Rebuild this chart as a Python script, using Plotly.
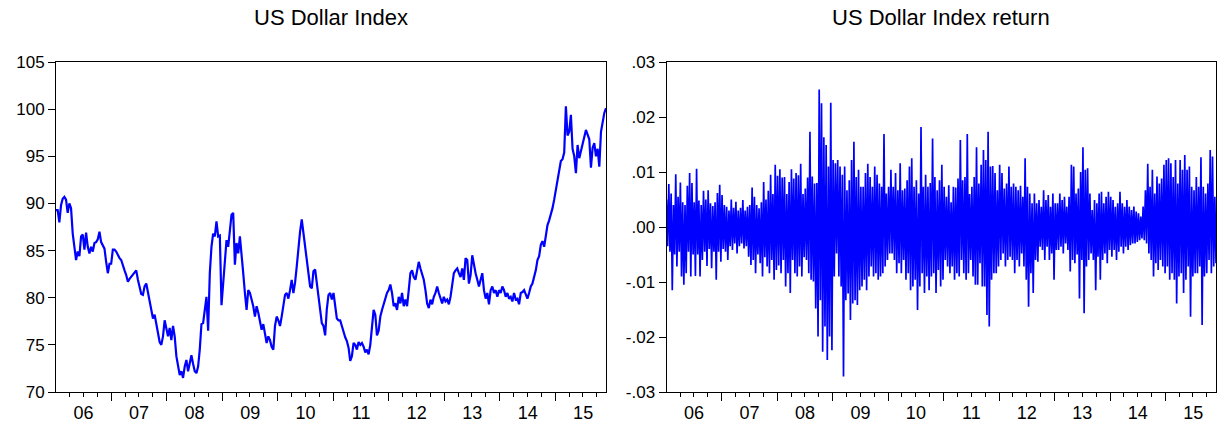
import pandas as pd
import plotly.graph_objects as go

# ---------------- data ----------------
start_date = "2006-01-02"
end_date = "2015-11-30"

left_title = "US Dollar Index"
right_title = "US Dollar Index return"

# US Dollar Index level, sampled at regular intervals (~11 days)
index_level = [
    89.3, 89.3, 88.0, 89.8, 90.5, 90.7, 90.4, 89.0, 90.0, 89.5,
    86.8, 85.4, 84.0, 84.9, 84.4, 86.5, 86.7, 85.1, 86.9, 85.4,
    84.7, 85.4, 84.9, 85.8, 85.9, 86.2, 87.0, 85.9, 85.6, 85.2,
    83.8, 82.6, 83.6, 83.6, 85.1, 85.1, 84.9, 84.5, 84.2, 84.0,
    83.3, 82.9, 82.4, 81.7, 82.0, 82.2, 82.4, 82.6, 82.9, 81.9,
    81.2, 80.4, 80.3, 81.2, 81.5, 80.6, 79.6, 78.7, 77.8, 78.2,
    77.3, 76.2, 75.3, 75.0, 75.9, 77.6, 76.6, 75.9, 76.8, 75.5,
    77.0, 75.9, 73.8, 72.7, 71.8, 72.2, 71.5, 72.7, 73.4, 72.2,
    72.9, 73.9, 73.0, 72.2, 72.0, 72.7, 74.5, 77.2, 77.3, 79.1,
    80.1, 76.5, 82.6, 85.4, 86.8, 86.5, 88.1, 86.5, 86.6, 79.2,
    81.5, 84.7, 86.1, 85.4, 87.5, 88.8, 89.0, 83.5, 85.8, 84.7,
    86.5, 84.0, 82.6, 80.5, 78.7, 80.8, 80.5, 79.8, 79.1, 78.0,
    79.1, 78.4, 77.6, 76.6, 77.2, 76.2, 75.2, 75.9, 75.5, 74.8,
    74.5, 77.0, 78.0, 77.6, 77.0, 78.0, 79.4, 80.3, 80.5, 79.9,
    80.8, 81.9, 80.5, 81.6, 83.3, 85.4, 87.0, 88.3, 86.8, 85.8,
    84.4, 82.9, 81.2, 81.0, 82.8, 83.0, 81.5, 79.8, 78.4, 77.3,
    77.0, 76.0, 78.8, 80.3, 80.5, 79.8, 80.5,
    79.3, 77.8, 77.6, 77.6, 77.0, 76.3, 75.8, 75.4, 74.7, 73.3,
    73.8, 75.2, 75.0, 74.5, 75.3, 75.0, 75.2, 74.8, 74.2, 74.5,
    74.0, 75.0, 77.1, 78.7, 78.2, 76.0, 76.5, 78.0, 78.7, 79.4,
    79.8, 80.5, 80.8, 81.4, 80.5, 79.1, 79.4, 78.7, 80.1, 79.4,
    80.5, 79.1, 79.8, 79.1, 80.8, 82.6, 82.9, 82.2, 81.9, 83.1,
    83.8, 83.1, 82.4, 81.9, 80.8, 79.4, 78.9, 79.8, 79.3, 80.1,
    80.5, 81.2, 80.5, 79.8, 79.4, 80.1, 79.6, 79.8, 79.3, 80.1,
    81.5, 82.6, 82.9, 83.1, 82.6, 82.2, 83.1, 81.9, 84.2, 84.0,
    81.5, 82.4, 84.5, 83.3, 82.6, 81.9, 81.2, 81.9, 82.6, 80.8,
    79.9, 80.5, 79.3, 80.8, 81.2, 80.5, 80.8, 80.1, 80.8, 80.5,
    81.2, 80.8, 80.1, 80.5, 79.9, 80.1, 79.6, 80.5, 79.8, 79.9,
    79.3, 80.5, 80.6, 80.8, 80.3, 79.9, 80.5, 81.2, 81.5, 82.2,
    82.9, 84.0, 84.4, 85.6, 86.0, 85.4, 86.6, 87.7, 88.2, 88.8,
    89.5, 90.4, 91.5, 92.6, 93.7, 94.5, 94.7, 95.4, 100.3, 97.2,
    97.6, 99.4, 95.8, 95.0, 93.2, 96.2, 94.8, 95.6, 96.3, 97.1,
    97.8, 97.3, 96.8, 93.8, 95.9, 96.4, 95.0, 95.8, 93.9, 97.6,
    98.6, 99.6, 100.1,
]

# Return (in percent): successive high / low swings of the daily return band
return_pct = [
    # 2006
    0.50, -0.35, 0.78, -0.45, 0.61, -1.15, 0.40, -0.50, 0.96, -0.72, 0.55, -0.45,
    0.81, -0.90, 0.45, -1.05, 0.40, -0.84, 0.75, -0.45, 0.98, -0.90, 0.80, -0.50,
    0.45, -0.89, 1.06, -0.50, 0.48, -0.90, 0.40, -0.60, 0.66, -0.45, 0.50, -0.71,
    0.67, -0.40, 0.43, -0.75, 0.38, -0.45, 0.45, -0.96, 0.62, -0.45, 0.77, -0.63,
    # 2007
    0.58, -0.40, 0.40, -0.45, 0.37, -0.60, 0.30, -0.35, 0.50, -0.42, 0.35, -0.30,
    0.46, -0.48, 0.30, -0.35, 0.35, -0.30, 0.49, -0.39, 0.30, -0.35, 0.37, -0.54,
    0.40, -0.69, 0.72, -0.60, 0.55, -0.84, 0.40, -0.50, 0.34, -0.66, 0.45, -0.90,
    0.82, -0.55, 0.50, -0.72, 0.66, -0.84, 0.95, -0.60, 0.60, -0.96, 1.13, -0.78,
    # 2008
    0.93, -0.70, 1.05, -0.84, 0.90, -0.60, 0.91, -1.08, 0.60, -0.84, 0.82, -1.20,
    1.05, -0.60, 0.88, -0.84, 0.98, -0.90, 0.94, -0.72, 1.15, -0.90, 0.60, -0.55,
    0.70, -0.60, 0.90, -0.84, 1.73, -0.96, 0.92, -0.99, 0.79, -1.48, 0.80, -1.99,
    2.50, -1.33, 2.25, -2.27, 1.63, -1.81, 1.49, -2.42, 1.10, -1.99, 2.26, -2.24,
    # 2009
    1.22, -0.90, 1.16, -0.48, 1.22, -0.90, 1.10, -1.08, 0.95, -2.72, 1.10, -1.33,
    0.67, -1.21, 0.85, -1.69, 1.22, -1.39, 1.55, -1.33, 0.91, -1.42, 1.04, -1.15,
    0.73, -1.08, 0.73, -0.96, 0.98, -1.15, 1.15, -0.90, 0.91, -0.72, 0.73, -0.90,
    1.10, -0.84, 0.95, -0.96, 0.79, -0.90, 0.73, -0.84, 1.69, -0.72, 0.61, -0.60,
    # 2010
    0.73, -0.48, 1.04, -0.48, 0.73, -0.60, 0.98, -0.84, 0.67, -0.66, 1.16, -0.84,
    0.67, -0.60, 0.70, -0.96, 0.85, -0.84, 1.10, -1.15, 1.25, -1.08, 0.73, -0.96,
    0.85, -1.51, 0.61, -1.08, 1.82, -0.84, 0.73, -1.20, 0.95, -0.90, 0.73, -1.15,
    0.80, -0.90, 1.61, -0.84, 0.91, -1.20, 0.67, -0.78, 0.85, -1.08, 1.13, -0.96,
    # 2011
    0.73, -0.60, 0.55, -0.72, 0.76, -0.84, 0.45, -0.72, 0.73, -0.96, 0.72, -0.84,
    0.88, -0.90, 1.58, -0.60, 0.85, -0.84, 0.91, -0.96, 1.69, -0.84, 0.60, -0.60,
    0.73, -0.90, 0.91, -1.05, 1.45, -1.05, 0.79, -0.66, 1.13, -1.08, 1.40, -1.08,
    1.22, -1.60, 1.73, -1.81, 1.10, -0.96, 1.11, -0.84, 0.98, -0.84, 0.67, -0.72,
    # 2012
    1.13, -0.60, 0.98, -0.48, 0.70, -0.72, 0.79, -0.60, 1.10, -0.54, 0.73, -0.60,
    0.79, -0.84, 0.73, -0.60, 0.67, -0.72, 0.75, -0.48, 0.55, -0.72, 1.25, -0.96,
    0.73, -1.45, 0.61, -0.84, 0.43, -1.20, 0.61, -0.60, 0.43, -0.63, 0.49, -0.36,
    0.37, -0.42, 0.67, -0.60, 0.49, -0.36, 0.58, -0.60, 0.37, -0.48, 0.61, -0.96,
    # 2013
    0.43, -0.42, 0.43, -0.42, 0.61, -0.36, 0.49, -0.48, 0.55, -0.30, 0.37, -0.42,
    0.55, -0.81, 1.13, -0.60, 1.10, -0.66, 0.61, -0.50, 0.70, -1.30, 1.00, -0.60,
    1.45, -1.57, 1.04, -0.72, 1.07, -0.60, 0.61, -0.48, 0.31, -0.60, 0.49, -1.15,
    0.43, -0.54, 0.61, -0.96, 0.64, -0.60, 0.43, -0.48, 0.55, -0.66, 0.64, -0.42,
    # 2014
    0.55, -0.54, 0.49, -0.42, 0.37, -0.60, 0.43, -0.45, 0.64, -0.36, 0.43, -0.48,
    0.37, -0.36, 0.49, -0.42, 0.37, -0.33, 0.31, -0.30, 0.37, -0.30, 0.28, -0.27,
    0.25, -0.24, 0.19, -0.21, 0.37, -0.24, 0.67, -0.30, 1.15, -0.48, 0.73, -0.60,
    1.04, -0.90, 0.61, -0.66, 0.92, -0.78, 0.79, -0.60, 0.88, -0.72, 1.13, -0.84,
    # 2015
    1.22, -0.72, 1.25, -0.96, 1.16, -0.84, 0.91, -0.96, 1.22, -1.39, 0.79, -0.90,
    1.22, -0.84, 1.04, -1.20, 1.31, -0.96, 1.04, -0.72, 1.10, -1.63, 0.73, -0.90,
    0.67, -0.84, 0.91, -0.84, 0.73, -0.72, 1.27, -1.78, 0.73, -0.90, 0.61, -0.84,
    0.79, -0.60, 1.40, -0.84, 1.28, -0.72, 0.55, -0.66,
]

left_yticks = [70, 75, 80, 85, 90, 95, 100, 105]
right_yticks = [-0.03, -0.02, -0.01, 0.0, 0.01, 0.02, 0.03]
right_yticklabels = ["-.03", "-.02", "-.01", ".00", ".01", ".02", ".03"]

# ---------------- figure ----------------
level_dates = pd.date_range(start_date, end_date, periods=len(index_level))
return_dates = pd.date_range(start_date, end_date, periods=len(return_pct))
returns = [v / 100.0 for v in return_pct]

W, H = 1219, 425
FONT = "Liberation Sans, Arial, Helvetica, sans-serif"
BLUE = "#0000ff"

fig = go.Figure()
fig.add_trace(go.Scatter(x=level_dates, y=index_level, mode="lines",
                         line=dict(color=BLUE, width=2.2),
                         xaxis="x", yaxis="y", hoverinfo="skip"))
fig.add_trace(go.Scatter(x=return_dates, y=returns, mode="lines",
                         line=dict(color=BLUE, width=1.7),
                         xaxis="x2", yaxis="y2", hoverinfo="skip"))


def xaxis_cfg(domain):
    return dict(
        domain=domain, type="date", range=[start_date, end_date],
        showline=True, mirror=True, linecolor="black", linewidth=1,
        showgrid=False, zeroline=False,
        ticks="outside", ticklen=8, tickwidth=1, tickcolor="black",
        tick0="2006-01-01", dtick="M12", ticklabelmode="period", tickformat="%y",
        ticklabelstandoff=-4,
        tickfont=dict(family=FONT, size=18, color="black"),
        minor=dict(ticks="outside", ticklen=4, tickwidth=1, tickcolor="black",
                   dtick="M3", tick0="2006-01-01", showgrid=False),
        fixedrange=True, automargin=False,
    )


def yaxis_cfg(domain, anchor, rng, vals, text=None):
    d = dict(
        domain=domain, anchor=anchor, range=rng,
        showline=True, mirror=True, linecolor="black", linewidth=1,
        showgrid=False, zeroline=False,
        ticks="outside", ticklen=7, tickwidth=1, tickcolor="black",
        tickvals=vals, tickfont=dict(family=FONT, size=17, color="black"),
        fixedrange=True, automargin=False,
    )
    if text is not None:
        d["ticktext"] = text
    return d


ydom = [1 - 392 / H, 1 - 62 / H]
x1dom = [56 / W, 606 / W]
x2dom = [666.5 / W, 1216 / W]

fig.update_layout(
    width=W, height=H, autosize=False,
    margin=dict(l=0, r=0, t=0, b=0, pad=0),
    paper_bgcolor="white", plot_bgcolor="white",
    showlegend=False,
    font=dict(family=FONT, color="black"),
    xaxis=dict(xaxis_cfg(x1dom), anchor="y"),
    yaxis=yaxis_cfg(ydom, "x", [70, 105], left_yticks),
    xaxis2=dict(xaxis_cfg(x2dom), anchor="y2"),
    yaxis2=yaxis_cfg(ydom, "x2", [-0.03, 0.03], right_yticks, right_yticklabels),
    annotations=[
        dict(text=left_title, x=(x1dom[0] + x1dom[1]) / 2, y=1 - 17 / H,
             xref="paper", yref="paper", xanchor="center", yanchor="middle",
             showarrow=False, font=dict(family=FONT, size=22, color="black")),
        dict(text=right_title, x=(x2dom[0] + x2dom[1]) / 2, y=1 - 17 / H,
             xref="paper", yref="paper", xanchor="center", yanchor="middle",
             showarrow=False, font=dict(family=FONT, size=22, color="black")),
    ],
)

page_css = ("document.documentElement.style.margin='0';"
            "document.documentElement.style.overflow='hidden';"
            "document.body.style.margin='0';"
            "document.body.style.padding='0';"
            "document.body.style.overflow='hidden';")

fig.write_html("out.html", config={"responsive": False, "displayModeBar": False},
               post_script=page_css)
